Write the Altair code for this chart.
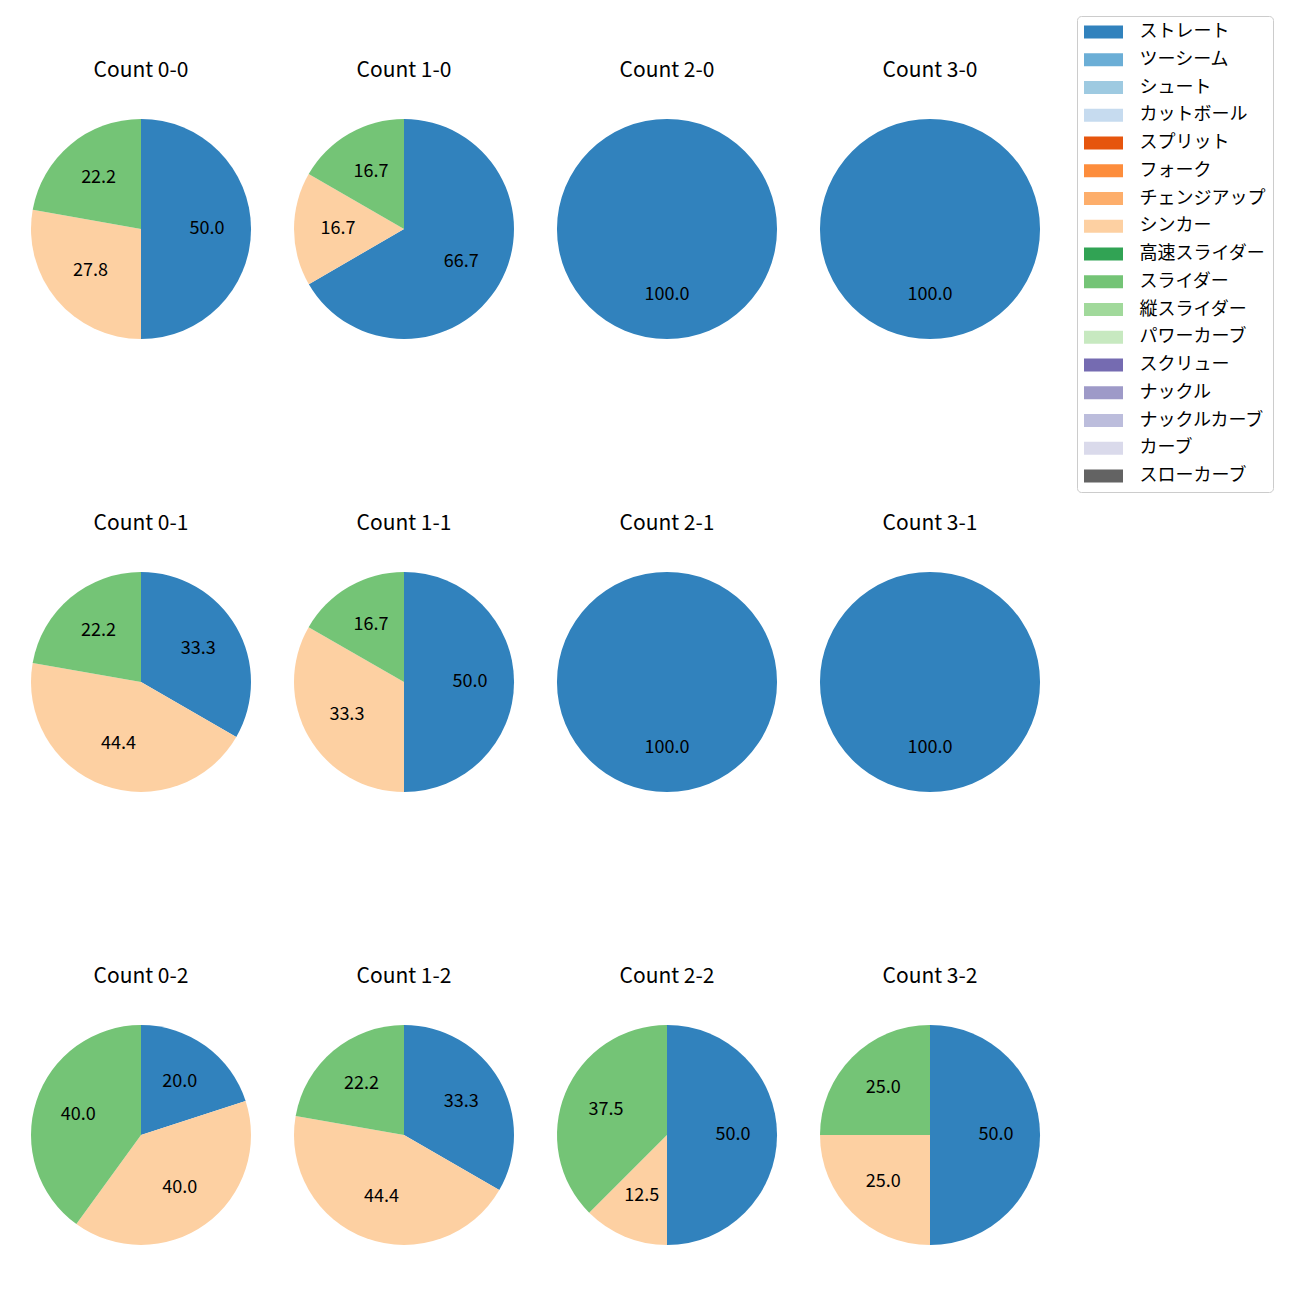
import altair as alt
import pandas as pd

FONT = "Noto Sans CJK JP"

pitch_names = ["ストレート", "ツーシーム", "シュート", "カットボール", "スプリット", "フォーク",
               "チェンジアップ", "シンカー", "高速スライダー", "スライダー", "縦スライダー",
               "パワーカーブ", "スクリュー", "ナックル", "ナックルカーブ", "カーブ", "スローカーブ"]
pitch_colors = ["#3182bd", "#6baed6", "#9ecae1", "#c6dbef", "#e6550d", "#fd8d3c",
                "#fdae6b", "#fdd0a2", "#31a354", "#74c476", "#a1d99b", "#c7e9c0",
                "#756bb1", "#9e9ac8", "#bcbddc", "#dadaeb", "#636363"]

counts = ["0-0", "1-0", "2-0", "3-0", "0-1", "1-1", "2-1", "3-1", "0-2", "1-2", "2-2", "3-2"]
straight = [50.0, 66.7, 100.0, 100.0, 33.3, 50.0, 100.0, 100.0, 20.0, 33.3, 50.0, 50.0]
sinker = [27.8, 16.7, 0.0, 0.0, 44.4, 33.3, 0.0, 0.0, 40.0, 44.4, 12.5, 25.0]
slider = [22.2, 16.7, 0.0, 0.0, 22.2, 16.7, 0.0, 0.0, 40.0, 22.2, 37.5, 25.0]

series = [("ストレート", straight), ("シンカー", sinker), ("スライダー", slider)]

CW = 263
CX = 131
CY = 213
TY = 55
R = 110

color_scale = alt.Scale(domain=pitch_names, range=pitch_colors)
legend = alt.Legend(
    title=None, orient="right", offset=15,
    symbolType="M-3,-1L3,-1L3,1L-3,1Z", symbolSize=169, symbolOffset=10.5,
    symbolStrokeWidth=0, symbolOpacity=1,
    labelFont=FONT, labelFontSize=18, labelColor="black", labelOffset=27,
    rowPadding=9.75, padding=7, labelLimit=300,
    strokeColor="#cccccc", fillColor="white", cornerRadius=4,
)


def panel(i, h):
    rows = []
    for name, vals in series:
        v = vals[i]
        if v > 0:
            rows.append({"pitch": name, "value": v, "ord": pitch_names.index(name),
                         "label": f"{v:.1f}"})
    df = pd.DataFrame(rows)
    base = alt.Chart(df).encode(
        theta=alt.Theta("value:Q", stack="normalize"),
        order=alt.Order("ord:Q"),
        x=alt.value(CX), y=alt.value(CY),
    )
    arcs = base.mark_arc(outerRadius=R).encode(
        color=alt.Color("pitch:N", scale=color_scale, legend=legend)
    )
    labels = base.mark_text(radius=R * 0.6, font=FONT, fontSize=18, color="black").encode(
        text="label:N"
    )
    tdf = pd.DataFrame({"t": [f"Count {counts[i]}"]})
    title = alt.Chart(tdf).mark_text(font=FONT, fontSize=21, color="black",
                                     align="center", baseline="middle").encode(
        text="t:N", x=alt.value(CX), y=alt.value(TY)
    )
    return alt.layer(arcs, labels, title).properties(width=CW, height=h)


row_heights = [453, 453, 340]
rows = []
for r in range(3):
    rows.append(alt.hconcat(*[panel(r * 4 + c, row_heights[r]) for c in range(4)], spacing=0))

chart = alt.vconcat(*rows, spacing=0).properties(
    padding={"left": 2, "top": 7, "right": 5, "bottom": 5}
).configure_view(stroke=None)

chart.save("out.html", embed_options={"renderer": "svg", "actions": False})
